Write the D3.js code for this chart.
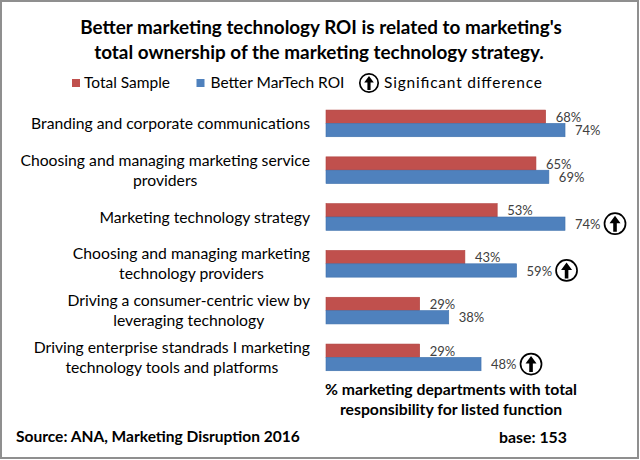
<!DOCTYPE html>
<html>
<head>
<meta charset="utf-8">
<script src="https://cdn.jsdelivr.net/npm/d3@7"></script>
<style>
  html, body { margin: 0; padding: 0; background: #fff; }
  svg { display: block; font-family: Lato, "Open Sans", sans-serif; }
</style>
</head>
<body>
<svg id="chart" width="640" height="460"></svg>
<script>
// ---- data ----
const categories = [
  "Branding and corporate communications",
  "Choosing and managing marketing service providers",
  "Marketing technology strategy",
  "Choosing and managing marketing technology providers",
  "Driving a consumer-centric view by leveraging technology",
  "Driving enterprise standrads I marketing technology tools and platforms"
];
const categoryLines = [
  ["Branding and corporate communications"],
  ["Choosing and managing marketing service", "providers"],
  ["Marketing technology strategy"],
  ["Choosing and managing marketing", "technology providers"],
  ["Driving a consumer-centric view by", "leveraging technology"],
  ["Driving enterprise standrads I marketing", "technology tools and platforms"]
];
const seriesNames = ["Total Sample", "Better MarTech ROI"];
const totalSample = [68, 65, 53, 43, 29, 29];
const betterROI   = [74, 69, 74, 59, 38, 48];
const significant = [false, false, true, true, false, true];
const titleLines = ["Better marketing technology ROI is related to marketing's",
                    "total ownership of the marketing technology strategy."];
const axisTitleLines = ["% marketing departments with total",
                        "responsibility for listed function"];
const sourceText = "Source: ANA, Marketing Disruption 2016";
const baseText = "base: 153";
const sigLabel = "Significant difference";

// ---- setup ----
const svg = d3.select("#chart");
const colors = { "Total Sample": "#C0504D", "Better MarTech ROI": "#4F81BD" };
const strokes = { "Total Sample": "#B0403D", "Better MarTech ROI": "#3F71AD" };

svg.append("rect").attr("x", 1).attr("y", 1).attr("width", 637).attr("height", 457)
  .attr("fill", "#fff").attr("stroke", "#8f8f8f").attr("stroke-width", 2);

function fit(sel, target) {
  const fs = parseFloat(sel.attr("font-size"));
  const w = sel.node().getComputedTextLength();
  const nfs = fs * target / w;
  sel.attr("font-size", nfs);
  return nfs;
}

const x = d3.scaleLinear().domain([0, 100]).range([326, 649]);
const y = d3.scaleBand().domain(categories).range([100, 380.8]).paddingInner(0.43).paddingOuter(0.215);
const ys = d3.scaleBand().domain(seriesNames).range([0, y.bandwidth()]);

// ---- title ----
const t1 = svg.append("text").attr("x", 321).attr("y", 27).attr("dy", "0.35em").attr("text-anchor", "middle")
  .attr("font-weight", "bold").attr("font-size", 18).attr("fill", "#000").text(titleLines[0]);
const tfs = fit(t1, 482);
svg.append("text").attr("x", 319).attr("y", 52).attr("dy", "0.35em").attr("text-anchor", "middle")
  .attr("font-weight", "bold").attr("font-size", tfs).attr("fill", "#000").text(titleLines[1]);

// ---- legend ----
const legFs = 15.5;
const leg = svg.append("g");
const legItems = [
  { name: seriesNames[0], sx: 72, tx: 84 },
  { name: seriesNames[1], sx: 196.5, tx: 210.5 }
];
let legText;
legItems.forEach(d => {
  leg.append("rect").attr("x", d.sx).attr("y", 79).attr("width", 8).attr("height", 8)
    .attr("fill", colors[d.name]);
  const t = leg.append("text").attr("x", d.tx).attr("y", 83).attr("dy", "0.35em")
    .attr("font-size", legFs).attr("fill", "#000").text(d.name);
  if (d.name === seriesNames[1]) legText = t;
});
const lfs = fit(legText, 134);
leg.selectAll("text").attr("font-size", lfs);

function sigIcon(g, cx, cy, r) {
  const s = r / 10.5;
  g.append("circle").attr("cx", cx).attr("cy", cy).attr("r", r)
    .attr("fill", "#fff").attr("stroke", "#000").attr("stroke-width", 1.7);
  g.append("path")
    .attr("d", `M${cx},${cy - 8 * s} L${cx + 5.5 * s},${cy - 0.5 * s} L${cx + 1.8 * s},${cy - 0.5 * s} L${cx + 1.8 * s},${cy + 8 * s} L${cx - 1.8 * s},${cy + 8 * s} L${cx - 1.8 * s},${cy - 0.5 * s} L${cx - 5.5 * s},${cy - 0.5 * s} Z`)
    .attr("fill", "#000");
}
sigIcon(leg, 369, 83, 9.2);
leg.append("text").attr("x", 384).attr("y", 83).attr("dy", "0.35em")
  .attr("font-size", lfs).attr("fill", "#000")
  .attr("textLength", 158).attr("lengthAdjust", "spacing").text(sigLabel);

// ---- bars ----
const rows = categories.map((c, i) => ({
  cat: c, lines: categoryLines[i],
  vals: [
    { s: seriesNames[0], v: totalSample[i], sig: false },
    { s: seriesNames[1], v: betterROI[i], sig: significant[i] }
  ]
}));

const rowG = svg.append("g").selectAll("g").data(rows).join("g")
  .attr("transform", d => `translate(0,${y(d.cat)})`);

rowG.selectAll("rect").data(d => d.vals).join("rect")
  .attr("x", x(0))
  .attr("y", d => ys(d.s))
  .attr("width", d => x(d.v) - x(0))
  .attr("height", ys.bandwidth())
  .attr("fill", d => colors[d.s])
  .attr("stroke", d => strokes[d.s])
  .attr("stroke-width", 0.6);

rowG.selectAll("text.val").data(d => d.vals).join("text")
  .attr("class", "val")
  .attr("x", d => x(d.v) + 10)
  .attr("y", d => ys(d.s) + ys.bandwidth() / 2 + 0.5)
  .attr("dy", "0.35em")
  .attr("font-size", 13)
  .attr("fill", "#404040")
  .text(d => d.v + "%");

rowG.each(function (d) {
  const g = d3.select(this);
  d.vals.forEach(v => {
    if (v.sig) sigIcon(g, x(v.v) + 50, ys(v.s) + ys.bandwidth() / 2, 10.5);
  });
});

// ---- category labels ----
const labG = svg.append("g");
const probe = labG.append("text").attr("font-size", 16).text(categoryLines[0][0]);
const cfs = fit(probe, 279);
probe.remove();
rows.forEach(r => {
  const cy = y(r.cat) + y.bandwidth() / 2;
  const n = r.lines.length;
  const texts = r.lines.map((ln, j) =>
    labG.append("text").attr("font-size", cfs).attr("fill", "#000")
      .attr("text-anchor", "middle")
      .attr("y", cy + (j - (n - 1) / 2) * 20).attr("dy", "0.35em").text(ln));
  const maxW = d3.max(texts, t => t.node().getComputedTextLength());
  texts.forEach(t => t.attr("x", 310 - maxW / 2));
});

// ---- axis title ----
const a1 = svg.append("text").attr("x", 451).attr("y", 389).attr("dy", "0.35em")
  .attr("text-anchor", "middle").attr("font-weight", "bold").attr("font-size", 15)
  .attr("fill", "#000").text(axisTitleLines[0]);
const afs = fit(a1, 252);
svg.append("text").attr("x", 451).attr("y", 409).attr("dy", "0.35em")
  .attr("text-anchor", "middle").attr("font-weight", "bold").attr("font-size", afs)
  .attr("fill", "#000").text(axisTitleLines[1]);

// ---- footer ----
const src = svg.append("text").attr("x", 16).attr("y", 437).attr("dy", "0.35em")
  .attr("font-weight", "bold").attr("font-size", 15).attr("fill", "#000").text(sourceText);
fit(src, 284);
const base = svg.append("text").attr("x", 499).attr("y", 437).attr("dy", "0.35em")
  .attr("font-weight", "bold").attr("font-size", 15).attr("fill", "#000").text(baseText);
fit(base, 68);
</script>
</body>
</html>
